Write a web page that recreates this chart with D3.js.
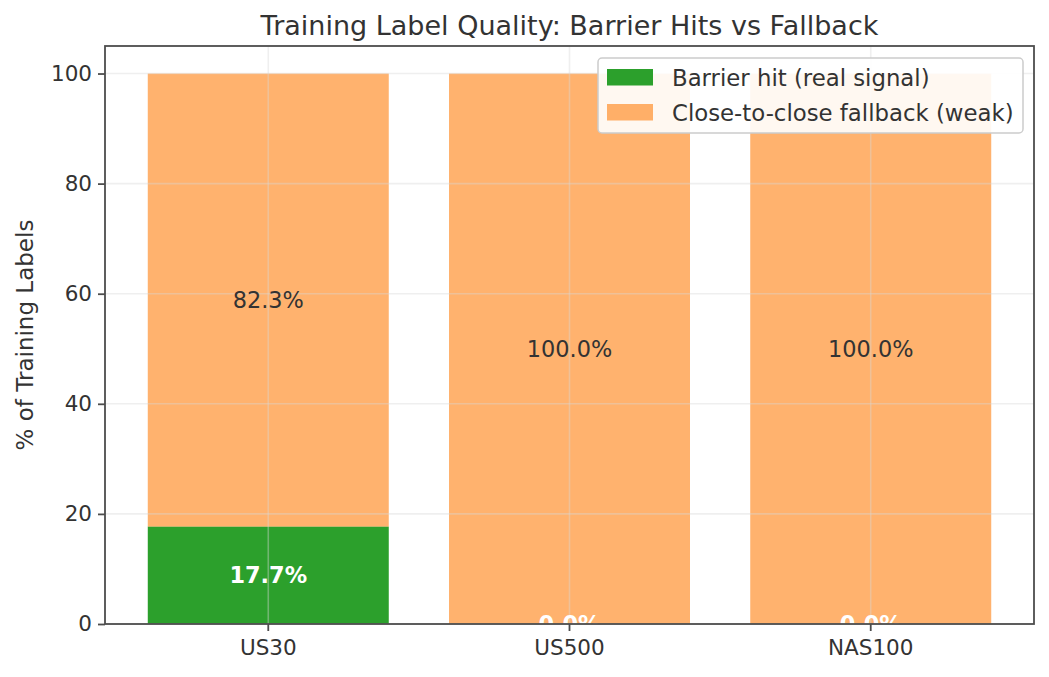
<!DOCTYPE html>
<html lang="en">
<head>
<meta charset="UTF-8">
<title>Training Label Quality</title>
<script src="https://d3js.org/d3.v7.min.js"></script>
<style>
    body { margin: 0; background: #fff; }
    svg text { font-family: "DejaVu Sans", sans-serif; fill: #333; }
</style>
</head>
<body>
<svg id="chart" width="1049" height="677"></svg>
<script>
    // data
    let symbols = ["US30", "US500", "NAS100"];
    let barrierHit = [17.7, 0.0, 0.0];
    let fallback = [82.3, 100.0, 100.0];
    let yTicks = [0, 20, 40, 60, 80, 100];
    let seriesNames = ["Barrier hit (real signal)", "Close-to-close fallback (weak)"];

    let green = "#2ca02c";
    let orange = "rgba(255,127,14,0.6)";

    let svg = d3.select("#chart");
    let plotLeft = 105, plotRight = 1034, plotTop = 46, plotBottom = 624;

    let x = d3.scaleBand().domain(symbols).range([plotLeft, plotRight])
        .paddingInner(0.2).paddingOuter(0.142);
    let y = d3.scaleLinear().domain([0, 105]).range([plotBottom, plotTop]);

    svg.append("clipPath").attr("id", "plotClip").append("rect")
        .attr("x", plotLeft).attr("y", plotTop)
        .attr("width", plotRight - plotLeft).attr("height", plotBottom - plotTop);

    // bars
    let bars = svg.append("g");
    bars.selectAll("rect.hit").data(symbols).enter().append("rect")
        .attr("x", d => x(d)).attr("width", x.bandwidth())
        .attr("y", (d, i) => y(barrierHit[i]))
        .attr("height", (d, i) => y(0) - y(barrierHit[i]))
        .attr("fill", green);
    bars.selectAll("rect.fb").data(symbols).enter().append("rect")
        .attr("x", d => x(d)).attr("width", x.bandwidth())
        .attr("y", (d, i) => y(barrierHit[i] + fallback[i]))
        .attr("height", (d, i) => y(barrierHit[i]) - y(barrierHit[i] + fallback[i]))
        .attr("fill", orange);

    // grid on top of bars, faint
    let grid = svg.append("g").attr("stroke", "#d6d6d6").attr("stroke-opacity", 0.4).attr("stroke-width", 1.6);
    grid.selectAll("line.h").data(yTicks).enter().append("line")
        .attr("x1", plotLeft).attr("x2", plotRight)
        .attr("y1", d => y(d)).attr("y2", d => y(d));
    grid.selectAll("line.v").data(symbols).enter().append("line")
        .attr("x1", d => x(d) + x.bandwidth() / 2).attr("x2", d => x(d) + x.bandwidth() / 2)
        .attr("y1", plotTop).attr("y2", plotBottom);

    // value labels (white ones below the x axis vanish on the white page anyway)
    let labels = svg.append("g").attr("text-anchor", "middle").style("font-size", "22.4px")
        .attr("clip-path", "url(#plotClip)");
    labels.selectAll("text.fb").data(symbols).enter().append("text")
        .attr("x", d => x(d) + x.bandwidth() / 2)
        .attr("y", (d, i) => y(barrierHit[i] + fallback[i] / 2))
        .attr("dy", "0.36em")
        .text((d, i) => fallback[i].toFixed(1) + "%");
    labels.selectAll("text.hit").data(symbols).enter().append("text")
        .attr("x", d => x(d) + x.bandwidth() / 2)
        .attr("y", (d, i) => y(barrierHit[i] / 2))
        .attr("dy", "0.36em")
        .style("fill", "#fff").style("font-weight", "bold")
        .text((d, i) => barrierHit[i].toFixed(1) + "%");

    // axes
    let yAxis = svg.append("g").attr("transform", "translate(" + plotLeft + ",0)")
        .call(d3.axisLeft(y).tickValues(yTicks).tickSize(7).tickPadding(6));
    let xAxis = svg.append("g").attr("transform", "translate(0," + plotBottom + ")")
        .call(d3.axisBottom(x).tickSize(7).tickPadding(9));
    [xAxis, yAxis].forEach(a => {
        a.select(".domain").remove();
        a.selectAll(".tick line").attr("stroke", "#4d4d4d").attr("stroke-width", 1.8);
        a.selectAll(".tick text").style("font-size", "21.5px").style("font-family", "DejaVu Sans").attr("fill", "#333");
    });

    // spines
    svg.append("rect").attr("x", plotLeft).attr("y", plotTop)
        .attr("width", plotRight - plotLeft).attr("height", plotBottom - plotTop)
        .attr("fill", "none").attr("stroke", "#4d4d4d").attr("stroke-width", 1.8);

    // title and y label
    svg.append("text").attr("x", (plotLeft + plotRight) / 2).attr("y", 35)
        .attr("text-anchor", "middle").style("font-size", "27px")
        .text("Training Label Quality: Barrier Hits vs Fallback");
    svg.append("text").attr("transform", "translate(33," + (plotTop + plotBottom) / 2 + ") rotate(-90)")
        .attr("text-anchor", "middle").style("font-size", "23px")
        .text("% of Training Labels");

    // legend
    let legend = svg.append("g");
    legend.append("rect").attr("x", 598).attr("y", 58).attr("width", 425).attr("height", 75)
        .attr("rx", 4).attr("fill", "rgba(255,255,255,0.9)").attr("stroke", "#cccccc").attr("stroke-width", 1.5);
    let colors = [green, orange];
    seriesNames.forEach((name, i) => {
        legend.append("rect").attr("x", 607).attr("y", 69 + i * 35).attr("width", 46).attr("height", 16.5)
            .attr("fill", colors[i]);
        legend.append("text").attr("x", 672).attr("y", 85.5 + i * 35)
            .style("font-size", "22.8px").text(name);
    });
</script>
</body>
</html>
